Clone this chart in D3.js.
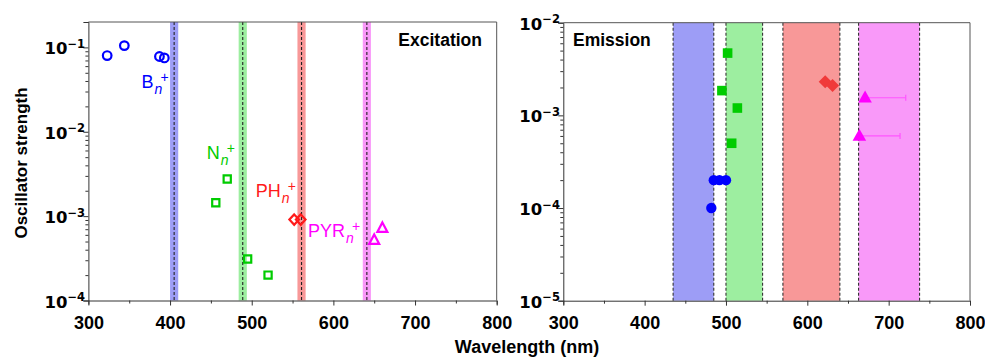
<!DOCTYPE html>
<html>
<head>
<meta charset="utf-8">
<script src="https://cdn.jsdelivr.net/npm/d3@7"></script>
<style>
  html, body { margin: 0; padding: 0; background: #fff; }
  svg { display: block; font-family: "Liberation Sans", Arial, sans-serif; }
</style>
</head>
<body>
<svg id="chart" width="985" height="357"></svg>
<script>
"use strict";

// excitation (open markers)
const exBWave = [323, 344, 387, 393];
const exBOsc = [0.080, 0.105, 0.078, 0.075];
const exNWave = [456, 470, 495, 520];
const exNOsc = [0.00144, 0.00275, 0.00031, 0.0002];
const exPHWave = [552, 560];
const exPHOsc = [0.00091, 0.00091];
const exPYRWave = [650, 660];
const exPYROsc = [0.00052, 0.00072];
const exBandCenters = [405, 489, 561, 641];
const exBandHalf = 5;

// emission (filled markers)
const emBWave = [482, 485, 492, 500];
const emBOsc = [0.0001, 0.0002, 0.0002, 0.0002];
const emNWave = [495, 502, 507, 514];
const emNOsc = [0.00185, 0.0047, 0.0005, 0.0012];
const emPHWave = [622, 631];
const emPHOsc = [0.0023, 0.0021];
const emPYRWave = [664, 671];
const emPYROsc = [0.0006, 0.00155];
const emPYRErrHigh = [714, 721];
const emBandEdges = [[435, 485], [500, 545], [570, 640], [663, 738]];

const xTicks = [300, 400, 500, 600, 700, 800];
const bandColors = ["#9d9df6", "#9deea0", "#f89898", "#f999f9"];
const markColors = { B: "#0000ff", N: "#00cc00", PH: "#ff1a1a", PYR: "#ff00ff" };

let svg = d3.select("#chart");

let panels = {
  ex: { left: 88.4, right: 496.7, top: 22, bottom: 300.5, yDomain: [1e-4, 0.2] },
  em: { left: 563.3, right: 970, top: 22.7, bottom: 300.7, yDomain: [1e-5, 1e-2] }
};

function makeScales(p) {
  p.x = d3.scaleLinear().domain([300, 800]).range([p.left, p.right]);
  p.y = d3.scaleLog().domain(p.yDomain).range([p.bottom, p.top]);
}
makeScales(panels.ex);
makeScales(panels.em);

function zip(xs, ys) { return xs.map((d, i) => ({ w: d, f: ys[i] })); }

// marker shapes
function squareD(s) { return `M${-s},${-s}H${s}V${s}H${-s}Z`; }
function diamondD(w, h) { return `M0,${-h}L${w},0L0,${h}L${-w},0Z`; }
function triangleD(w, h) { return `M0,${-h * 0.6}L${w},${h * 0.4}L${-w},${h * 0.4}Z`; }

function drawFrame(p) {
  let g = svg.append("g");
  // x axis, minor ticks every 50 nm
  let xAxis = d3.axisBottom(p.x)
    .tickValues(d3.range(300, 801, 50))
    .tickSize(4)
    .tickFormat(d => xTicks.includes(d) ? d : "");
  let gx = g.append("g")
    .attr("transform", `translate(0,${p.bottom})`)
    .call(xAxis);
  gx.selectAll(".tick line").attr("y2", d => xTicks.includes(d) ? 5 : 3);
  gx.selectAll(".tick text")
    .attr("y", 16)
    .attr("fill", "#000")
    .style("font-family", "'Liberation Sans', Arial, sans-serif")
    .style("font-size", "18px")
    .style("font-weight", "bold");

  // y axis, log with minor ticks
  let lo = Math.round(Math.log10(p.yDomain[0])), hi = Math.ceil(Math.log10(p.yDomain[1]));
  let yTicks = [];
  for (let e = lo; e < hi; e++) {
    for (let m = 1; m <= 9; m++) {
      let v = m * Math.pow(10, e);
      if (v <= p.yDomain[1] * 1.0001) yTicks.push(v);
    }
  }
  if (Math.abs(Math.pow(10, hi) - p.yDomain[1]) < 1e-12) yTicks.push(p.yDomain[1]);
  let isMajor = v => Math.abs(Math.log10(v) - Math.round(Math.log10(v))) < 1e-6;

  let yAxis = d3.axisLeft(p.y).tickValues(yTicks).tickSize(5).tickFormat("");
  let gy = g.append("g")
    .attr("transform", `translate(${p.left},0)`)
    .call(yAxis);
  gy.selectAll(".tick line").attr("x2", d => isMajor(d) ? -5 : -3);

  let major = gy.selectAll(".tick").filter(d => isMajor(d));
  major.append("text")
    .attr("x", -21)
    .attr("y", 6.5)
    .attr("text-anchor", "end")
    .attr("fill", "#000")
    .style("font-family", "'DejaVu Sans', sans-serif")
    .style("font-size", "16.5px")
    .style("font-weight", "bold")
    .text("10");
  major.append("text")
    .attr("x", -21)
    .attr("y", 0)
    .attr("text-anchor", "start")
    .attr("fill", "#000")
    .style("font-family", "'DejaVu Sans', sans-serif")
    .style("font-size", "11.5px")
    .style("font-weight", "bold")
    .text(d => "\u2212" + Math.abs(Math.round(Math.log10(d))));

  g.selectAll(".domain").attr("stroke", "#333");
  g.selectAll(".tick line").attr("stroke", "#333");

  // top and right border
  g.append("path")
    .attr("d", `M${p.left},${p.top}H${p.right}V${p.bottom}`)
    .attr("fill", "none")
    .attr("stroke", "#555")
    .attr("stroke-width", 1);
  return g;
}

// ---------- excitation panel ----------
let ex = panels.ex;
let exBands = svg.append("g");
exBands.selectAll("rect")
  .data(exBandCenters)
  .enter().append("rect")
  .attr("x", d => ex.x(d - exBandHalf))
  .attr("width", d => ex.x(d + exBandHalf) - ex.x(d - exBandHalf))
  .attr("y", ex.top)
  .attr("height", ex.bottom - ex.top)
  .attr("fill", (d, i) => bandColors[i]);
exBands.selectAll("line")
  .data(exBandCenters)
  .enter().append("line")
  .attr("x1", d => ex.x(d)).attr("x2", d => ex.x(d))
  .attr("y1", ex.top).attr("y2", ex.bottom)
  .attr("stroke", "#222")
  .attr("stroke-width", 1.1)
  .attr("stroke-dasharray", "3,2");

drawFrame(ex);

let exMarks = svg.append("g").attr("fill", "none").attr("stroke-width", 2.2);
exMarks.selectAll(".exB").data(zip(exBWave, exBOsc)).enter().append("circle")
  .attr("cx", d => ex.x(d.w)).attr("cy", d => ex.y(d.f)).attr("r", 4.3)
  .attr("stroke", markColors.B);
exMarks.selectAll(".exN").data(zip(exNWave, exNOsc)).enter().append("path")
  .attr("d", squareD(3.6))
  .attr("transform", d => `translate(${ex.x(d.w)},${ex.y(d.f)})`)
  .attr("stroke", markColors.N);
exMarks.selectAll(".exPH").data(zip(exPHWave, exPHOsc)).enter().append("path")
  .attr("d", diamondD(4.8, 5.2))
  .attr("transform", d => `translate(${ex.x(d.w)},${ex.y(d.f)})`)
  .attr("stroke", markColors.PH);
exMarks.selectAll(".exPYR").data(zip(exPYRWave, exPYROsc)).enter().append("path")
  .attr("d", triangleD(5, 9.5))
  .attr("transform", d => `translate(${ex.x(d.w)},${ex.y(d.f)})`)
  .attr("stroke", markColors.PYR);

// species labels
const labelNames = ["B", "N", "PH", "PYR"];
const labelWave = [365, 445, 505, 569];
const labelOsc = [0.0334, 0.0047, 0.00167, 0.00056];

labelNames.forEach((name, i) => {
  let x0 = ex.x(labelWave[i]), y0 = ex.y(labelOsc[i]);
  let t = svg.append("text")
    .attr("x", x0).attr("y", y0)
    .attr("fill", markColors[name])
    .style("font-size", "18px")
    .text(name);
  let w = t.node().getComputedTextLength();
  svg.append("text")
    .attr("x", x0 + w + 1).attr("y", y0 + 6)
    .attr("fill", markColors[name])
    .style("font-size", "14px")
    .style("font-style", "italic")
    .text("n");
  svg.append("text")
    .attr("x", x0 + w + 7).attr("y", y0 - 6)
    .attr("fill", markColors[name])
    .style("font-size", "14px")
    .text("+");
});

svg.append("text")
  .attr("x", 482).attr("y", 46)
  .attr("text-anchor", "end")
  .style("font-size", "17.5px")
  .style("font-weight", "bold")
  .text("Excitation");

// ---------- emission panel ----------
let em = panels.em;
let emBands = svg.append("g");
emBands.selectAll("rect")
  .data(emBandEdges)
  .enter().append("rect")
  .attr("x", d => em.x(d[0]))
  .attr("width", d => em.x(d[1]) - em.x(d[0]))
  .attr("y", em.top)
  .attr("height", em.bottom - em.top)
  .attr("fill", (d, i) => bandColors[i]);
emBands.selectAll("line")
  .data(emBandEdges.flat())
  .enter().append("line")
  .attr("x1", d => em.x(d)).attr("x2", d => em.x(d))
  .attr("y1", em.top).attr("y2", em.bottom)
  .attr("stroke", "#333")
  .attr("stroke-width", 1.1)
  .attr("stroke-dasharray", "3,2");

drawFrame(em);

let emMarks = svg.append("g").attr("stroke", "none");
// error bars (upper side only)
let errData = emPYRWave.map((d, i) => ({ w: d, f: emPYROsc[i], hi: emPYRErrHigh[i] }));
let errG = emMarks.selectAll(".err").data(errData).enter().append("g")
  .attr("stroke", "#ff55ff").attr("stroke-width", 1.2);
errG.append("line")
  .attr("x1", d => em.x(d.w)).attr("x2", d => em.x(d.hi))
  .attr("y1", d => em.y(d.f)).attr("y2", d => em.y(d.f));
errG.append("line")
  .attr("x1", d => em.x(d.hi)).attr("x2", d => em.x(d.hi))
  .attr("y1", d => em.y(d.f) - 3).attr("y2", d => em.y(d.f) + 3);

emMarks.selectAll(".emB").data(zip(emBWave, emBOsc)).enter().append("circle")
  .attr("cx", d => em.x(d.w)).attr("cy", d => em.y(d.f)).attr("r", 5.2)
  .attr("fill", markColors.B);
emMarks.selectAll(".emN").data(zip(emNWave, emNOsc)).enter().append("path")
  .attr("d", squareD(4.8))
  .attr("transform", d => `translate(${em.x(d.w)},${em.y(d.f)})`)
  .attr("fill", markColors.N);
emMarks.selectAll(".emPH").data(zip(emPHWave, emPHOsc)).enter().append("path")
  .attr("d", diamondD(6.5, 6.5))
  .attr("transform", d => `translate(${em.x(d.w)},${em.y(d.f)})`)
  .attr("fill", "#f03a3a");
emMarks.selectAll(".emPYR").data(zip(emPYRWave, emPYROsc)).enter().append("path")
  .attr("d", triangleD(6.8, 12))
  .attr("transform", d => `translate(${em.x(d.w)},${em.y(d.f)})`)
  .attr("fill", markColors.PYR);

svg.append("text")
  .attr("x", 573).attr("y", 46)
  .style("font-size", "17.5px")
  .style("font-weight", "bold")
  .text("Emission");

// ---------- axis titles ----------
svg.append("text")
  .attr("transform", "translate(27,163) rotate(-90)")
  .attr("text-anchor", "middle")
  .style("font-size", "17px")
  .style("font-weight", "bold")
  .text("Oscillator strength");

svg.append("text")
  .attr("x", 527).attr("y", 353)
  .attr("text-anchor", "middle")
  .style("font-size", "18px")
  .style("font-weight", "bold")
  .text("Wavelength (nm)");
</script>
</body>
</html>
